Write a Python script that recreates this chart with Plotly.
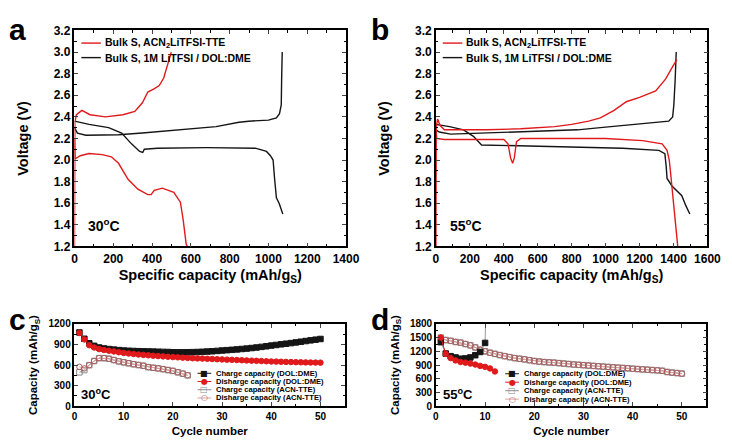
import plotly.graph_objects as go

# ---- panel a (30 C voltage profiles) ----
a_acn_chg_x = [0, 2, 10, 38, 80, 160, 250, 311, 350, 378, 410, 437, 460, 478, 492, 499]
a_acn_chg_y = [1.2, 2.35, 2.42, 2.46, 2.42, 2.40, 2.42, 2.45, 2.53, 2.63, 2.66, 2.69, 2.76, 2.87, 2.95, 3.0]
a_acn_dis_x = [0, 3, 30, 75, 143, 190, 227, 277, 327, 378, 395, 411, 453, 512, 546, 560, 576, 582]
a_acn_dis_y = [2.2, 2.01, 2.04, 2.06, 2.05, 2.03, 1.97, 1.82, 1.73, 1.68, 1.68, 1.72, 1.74, 1.70, 1.61, 1.45, 1.22, 1.2]
a_dol_chg_x = [0, 15, 59, 150, 227, 350, 478, 600, 730, 848, 898, 1000, 1041, 1057, 1066, 1068, 1071]
a_dol_chg_y = [2.30, 2.25, 2.23, 2.23, 2.235, 2.25, 2.27, 2.29, 2.31, 2.35, 2.36, 2.37, 2.39, 2.43, 2.51, 2.75, 3.0]
a_dol_dis_x = [0, 75, 176, 243, 294, 336, 352, 360, 428, 680, 932, 990, 1010, 1024, 1032, 1041, 1055, 1074]
a_dol_dis_y = [2.36, 2.33, 2.30, 2.25, 2.15, 2.08, 2.07, 2.10, 2.11, 2.115, 2.11, 2.08, 2.04, 2.0, 1.82, 1.65, 1.60, 1.50]

# ---- panel b (55 C voltage profiles) ----
b_acn_chg_x = [0, 2, 10, 25, 50, 300, 500, 700, 800, 900, 969, 1050, 1122, 1200, 1295, 1353, 1400, 1420]
b_acn_chg_y = [1.2, 2.30, 2.38, 2.32, 2.28, 2.28, 2.29, 2.31, 2.33, 2.36, 2.39, 2.46, 2.54, 2.58, 2.64, 2.75, 2.88, 2.93]
b_acn_dis_x = [0, 5, 50, 400, 425, 440, 452, 462, 475, 500, 800, 1000, 1218, 1300, 1333, 1362, 1375, 1381, 1400, 1425]
b_acn_dis_y = [2.3, 2.2, 2.19, 2.19, 2.15, 2.02, 1.97, 2.02, 2.17, 2.2, 2.2, 2.2, 2.18, 2.16, 2.15, 2.09, 2.0, 1.91, 1.58, 1.2]
b_dol_chg_x = [0, 20, 86, 300, 547, 835, 969, 1100, 1256, 1372, 1395, 1402, 1410, 1416]
b_dol_chg_y = [2.28, 2.26, 2.24, 2.25, 2.26, 2.28, 2.30, 2.32, 2.34, 2.36, 2.40, 2.51, 2.75, 3.0]
b_dol_dis_x = [0, 80, 163, 221, 269, 547, 835, 1100, 1314, 1349, 1357, 1362, 1391, 1449, 1472, 1496]
b_dol_dis_y = [2.33, 2.31, 2.28, 2.22, 2.14, 2.13, 2.12, 2.11, 2.09, 2.06, 1.94, 1.83, 1.76, 1.67, 1.58, 1.50]

# ---- panel c (30 C cycling) ----
c_dol_cyc = list(range(1, 51))
c_dol_chg = [1075, 983, 918, 880, 856, 842, 833, 825, 818, 812, 808, 805, 802, 800, 798, 796, 794, 792, 790, 786,
             785, 785, 786, 788, 790, 793, 797, 801, 806, 812, 817, 822, 828, 834, 840, 848, 856, 865, 874, 884,
             893, 902, 911, 920, 930, 940, 950, 960, 970, 980]
c_dol_dis = [1068, 974, 889, 856, 833, 819, 809, 798, 787, 776, 768, 761, 754, 748, 742, 736, 731, 726, 721, 716,
             712, 708, 704, 700, 697, 694, 691, 688, 685, 682, 679, 676, 673, 670, 667, 664, 661, 658, 655, 652,
             650, 648, 646, 644, 642, 640, 639, 637, 636, 635]
c_acn_cyc = list(range(1, 24))
c_acn_chg = [494, 527, 598, 659, 701, 701, 692, 673, 654, 640, 626, 612, 600, 590, 569, 560, 551, 540, 527, 515,
             494, 475, 450]
c_acn_dis = [574, 551, 598, 659, 701, 701, 692, 673, 654, 640, 626, 612, 600, 590, 569, 560, 551, 540, 527, 515,
             494, 475, 450]

# ---- panel d (55 C cycling) ----
d_dol_chg_cyc = list(range(1, 12))
d_dol_chg = [1400, 1151, 1094, 1066, 1038, 1045, 1066, 1115, 1186, 1384, 6000]
d_dol_dis_cyc = list(range(1, 13))
d_dol_dis = [1500, 1144, 1052, 1002, 967, 953, 932, 911, 882, 861, 826, 760]
d_acn_cyc = list(range(1, 51))
d_acn_dis = [1500, 1447, 1430, 1405, 1391, 1360, 1330, 1285, 1235, 1200, 1170, 1144, 1118, 1094, 1072, 1052, 1038,
             1024, 1006, 988, 976, 965, 958, 953, 942, 932, 922, 912, 905, 897, 889, 881, 873, 866, 858, 850, 843,
             836, 829, 820, 812, 805, 798, 790, 783, 775, 748, 735, 725, 713]
d_acn_chg = d_acn_dis  # hidden under the discharge circles

W, H = 732, 442
RED = "#e0191b"
BLK = "#151515"
GREY = "#8a8a8a"
PINK = "#b05a5a"

fig = go.Figure()

def line(x, y, color, xa, ya):
    fig.add_trace(go.Scatter(x=x, y=y, mode="lines", line=dict(color=color, width=1.4),
                             xaxis=xa, yaxis=ya, showlegend=False))

line(a_dol_chg_x, a_dol_chg_y, BLK, "x", "y")
line(a_dol_dis_x, a_dol_dis_y, BLK, "x", "y")
line(a_acn_chg_x, a_acn_chg_y, RED, "x", "y")
line(a_acn_dis_x, a_acn_dis_y, RED, "x", "y")
line(b_dol_chg_x, b_dol_chg_y, BLK, "x2", "y2")
line(b_dol_dis_x, b_dol_dis_y, BLK, "x2", "y2")
line(b_acn_chg_x, b_acn_chg_y, RED, "x2", "y2")
line(b_acn_dis_x, b_acn_dis_y, RED, "x2", "y2")

def pts(x, y, color, symbol, lc, xa, ya):
    fig.add_trace(go.Scatter(x=x, y=y, mode="lines+markers",
                             line=dict(color=lc, width=1),
                             marker=dict(symbol=symbol, size=5.5, color=color,
                                         line=dict(color=color, width=1)),
                             xaxis=xa, yaxis=ya, showlegend=False))

pts(c_acn_cyc, c_acn_chg, GREY, "square-open", GREY, "x3", "y3")
pts(c_acn_cyc, c_acn_dis, PINK, "circle-open", "#d9a0a0", "x3", "y3")
pts(c_dol_cyc, c_dol_chg, BLK, "square", BLK, "x3", "y3")
pts(c_dol_cyc, c_dol_dis, RED, "circle", RED, "x3", "y3")

pts(d_acn_cyc, d_acn_chg, GREY, "square-open", GREY, "x4", "y4")
pts(d_acn_cyc, d_acn_dis, PINK, "circle-open", "#d9a0a0", "x4", "y4")
pts(d_dol_chg_cyc, d_dol_chg, BLK, "square", "#999999", "x4", "y4")
pts(d_dol_dis_cyc, d_dol_dis, RED, "circle", RED, "x4", "y4")

def px(x0, x1):
    return [x0 / W, x1 / W]

def py(top, bot):
    return [1 - bot / H, 1 - top / H]

def ax(dom, rng, dtick, minor, title, anchor, standoff, tsize, lsize, fmt=None):
    d = dict(domain=dom, range=rng, dtick=dtick, tick0=0, ticks="inside", ticklen=4, tickwidth=1.2,
             showline=True, linecolor="black", linewidth=1.5, mirror="allticks", showgrid=False,
             zeroline=False, anchor=anchor, tickprefix="<b>", ticksuffix="</b>",
             tickfont=dict(family="Arial", size=tsize, color="black", weight="bold"),
             minor=dict(ticks="inside", ticklen=2.5, dtick=minor, tickwidth=1, tickcolor="black", showgrid=False),
             title=dict(text=title, standoff=standoff,
                        font=dict(family="Arial", size=lsize, color="black", weight="bold")))
    if fmt:
        d["tickformat"] = fmt
    return d

cap_title = "Specific capacity (mAh/g<sub>S</sub>)"
fig.update_layout(
    xaxis=ax(px(65, 343), [0, 1400], 200, 100, cap_title, "y", 5, 12, 14.5),
    yaxis=dict(ax(py(16, 239), [1.2, 3.2], 0.2, 0.1, "Voltage (V)", "x", 22, 12, 14.5, ".1f"), tick0=1.2),
    xaxis2=ax(px(435, 713), [0, 1600], 200, 100, cap_title, "y2", 5, 12, 14.5),
    yaxis2=dict(ax(py(16, 239), [1.2, 3.2], 0.2, 0.1, "Voltage (V)", "x2", 22, 12, 14.5, ".1f"), tick0=1.2),
    xaxis3=ax(px(65, 342), [0, 55], 10, 5, "Cycle number", "y3", 6, 10, 11.5),
    yaxis3=ax(py(319, 404), [0, 1200], 300, 150, "Capacity (mAh/g<sub>S</sub>)", "x3", 8, 10, 11.5),
    xaxis4=ax(px(435, 712), [0, 55], 10, 5, "Cycle number", "y4", 6, 10, 11.5),
    yaxis4=ax(py(319, 404), [0, 1800], 300, 150, "Capacity (mAh/g<sub>S</sub>)", "x4", 8, 10, 11.5),
    width=W, height=H, margin=dict(l=0, r=0, t=0, b=0),
    paper_bgcolor="white", plot_bgcolor="white", showlegend=False,
)

shapes = []
annots = []

def note(x, y, text, size, xanchor="left", color="black", weight="bold", family="Arial"):
    annots.append(dict(x=x / W, y=1 - y / H, xref="paper", yref="paper", text=text, showarrow=False,
                       xanchor=xanchor, yanchor="middle", borderpad=0,
                       font=dict(family=family, size=size, color=color, weight=weight)))

def seg(x0, x1, y, color, width):
    shapes.append(dict(type="line", xref="paper", yref="paper", x0=x0 / W, x1=x1 / W,
                       y0=1 - y / H, y1=1 - y / H, line=dict(color=color, width=width)))

# panel letters
note(-3, 15, "<b>a</b>", 30)
note(368, 15, "<b>b</b>", 30)
note(-3, 314, "<b>c</b>", 30)
note(368, 314, "<b>d</b>", 30)

# temperatures
note(78, 217, "<b>30<sup>o</sup>C</b>", 14)
note(448, 217, "<b>55<sup>o</sup>C</b>", 14)
note(71, 391, "<b>30<sup>o</sup>C</b>", 13)
note(441, 391, "<b>55<sup>o</sup>C</b>", 13)

# legends a / b
for dx in (0, 370):
    seg(72 + dx, 92 + dx, 29, RED, 1.4)
    note(95 + dx, 29, "<b>Bulk S, ACN<sub>2</sub>LiTFSI-TTE</b>", 10.5)
    seg(72 + dx, 92 + dx, 44, BLK, 1.4)
    note(95 + dx, 44, "<b>Bulk S, 1M LiTFSI / DOL:DME</b>", 10.5)

# legends c / d
leg_items = [("Charge capacity (DOL:DME)", BLK, "■", BLK),
             ("Disharge capacity (DOL:DME)", RED, "●", RED),
             ("Charge capacity (ACN-TTE)", GREY, "□", GREY),
             ("Disharge capacity (ACN-TTE)", "#d9a0a0", "○", PINK)]
for x0, ys in ((191, [370, 378.5, 387, 395.5]), (506, [370.5, 379.2, 388, 396.7])):
    for (txt, lc, glyph, mc), yy in zip(leg_items, ys):
        seg(x0, x0 + 14, yy, lc, 1)
        note(x0 + 7, yy, glyph, 8, xanchor="center", color=mc, weight="normal", family="DejaVu Sans")
        note(x0 + 18, yy, "<b>" + txt + "</b>", 7.6)

fig.update_layout(shapes=shapes, annotations=annots)
fig.write_html("out.html")
